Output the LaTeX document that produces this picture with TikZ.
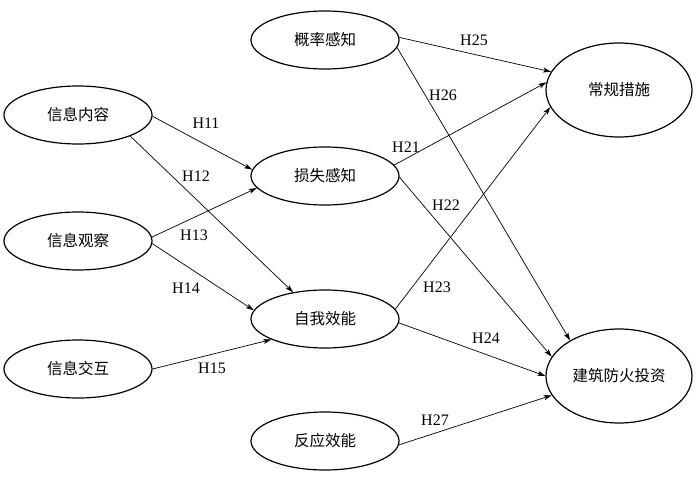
\documentclass[tikz,border=0pt]{standalone}
\usepackage{fontspec}
\setmainfont{Liberation Serif}
\newfontfamily\cjk{Noto Sans CJK SC}
\usetikzlibrary{shapes.geometric,arrows.meta}
\tikzset{
  elsmall/.style={draw, ellipse, line width=1.2pt, minimum width=148pt, minimum height=58pt, inner sep=0pt, font=\cjk\fontsize{15.5}{16}\selectfont},
  elbig/.style={draw, ellipse, line width=1.2pt, minimum width=146pt, minimum height=94pt, inner sep=0pt, font=\cjk\fontsize{15.5}{16}\selectfont},
  lab/.style={inner sep=0pt, font=\fontsize{16}{17}\selectfont},
  conn/.style={line width=0.7pt, -{Stealth[length=8pt,width=5pt,inset=2pt]}}
}
\begin{document}
\begin{tikzpicture}[x=1pt,y=-1pt]
\useasboundingbox[fill=white] (0,0) rectangle (700,478);
% nodes
\node[elsmall] (gl) at (325,40) {概率感知};
\node[elsmall] (nr) at (78,115) {信息内容};
\node[elsmall] (ss) at (325,176) {损失感知};
\node[elsmall] (gc) at (78,241) {信息观察};
\node[elsmall] (zw) at (325,319) {自我效能};
\node[elsmall] (jh) at (78,369) {信息交互};
\node[elsmall] (fy) at (325,441) {反应效能};
\node[elbig] (cg) at (619,90) {常规措施};
\node[elbig] (jz) at (619,376) {建筑防火投资};
% connectors
\draw[conn] (gl.2) -- (cg.165);
\draw[conn] (gl.-6) -- (jz.144);
\draw[conn] (nr.-1) -- (ss.175);
\draw[conn] (nr.-22) -- (zw.140);
\draw[conn] (gc.3) -- (ss.190);
\draw[conn] (gc.-2) -- (zw.173);
\draw[conn] (jh.0) -- (zw.201);
\draw[conn] (ss.9) -- (cg.174);
\draw[conn] (ss.-1) -- (jz.164);
\draw[conn] (zw.8) -- (cg.194);
\draw[conn] (zw.-3) -- (jz.180);
\draw[conn] (fy.-3) -- (jz.196);
% labels
\node[lab] (l25) at (474,40) {H25};
\node[lab] (l26) at (443,95) {H26};
\node[lab] (l11) at (206,123) {H11};
\node[lab] (l12) at (196,176) {H12};
\node[lab] (l13) at (194,235) {H13};
\node[lab] (l14) at (186,288) {H14};
\node[lab] (l15) at (212,368) {H15};
\node[lab] (l21) at (406,147) {H21};
\node[lab] (l22) at (446,205) {H22};
\node[lab] (l23) at (437,287) {H23};
\node[lab] (l24) at (486,338) {H24};
\node[lab] (l27) at (435,420) {H27};
\end{tikzpicture}
\end{document}
